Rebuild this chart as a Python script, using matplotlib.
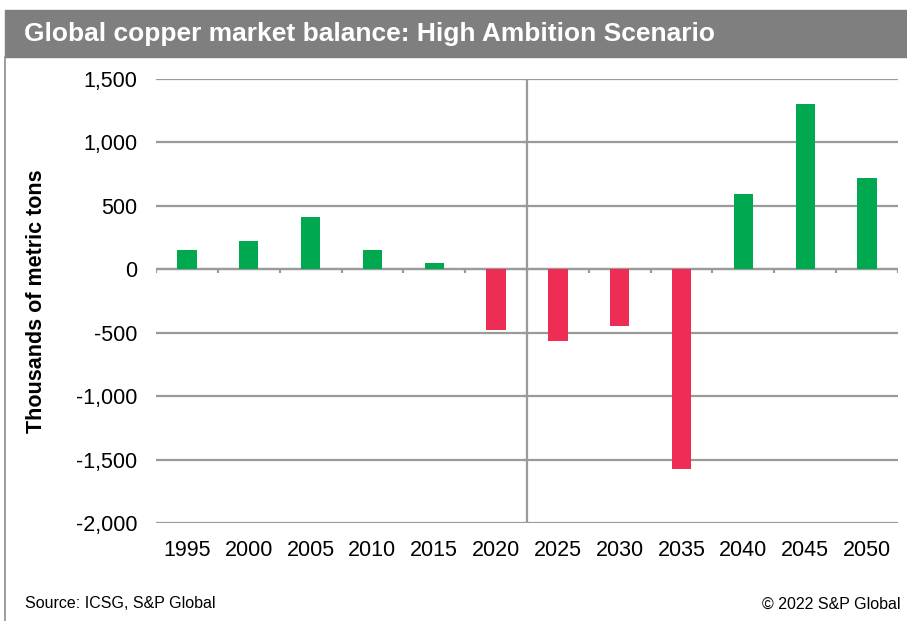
import numpy as np
import matplotlib.pyplot as plt
from matplotlib.patches import Rectangle
from matplotlib.lines import Line2D

plt.rcParams['font.family'] = ['Liberation Sans', 'DejaVu Sans']

# Market balance, thousands of metric tons
years = ['1995', '2000', '2005', '2010', '2015', '2020',
         '2025', '2030', '2035', '2040', '2045', '2050']
balance = [150, 220, 410, 150, 53, -480, -565, -450, -1575, 590, 1305, 722]
yticks = [-2000, -1500, -1000, -500, 0, 500, 1000, 1500]

green = '#00a94f'
red = '#ee2d54'
grid_col = '#9a9a9a'

fig = plt.figure(figsize=(9.07, 6.21), dpi=100)

# header band
fig.patches.append(Rectangle((5 / 907, 1 - 57 / 621), 1, 47 / 621,
                             transform=fig.transFigure, color='#7f7f7f', zorder=0))
fig.text(24 / 907, 1 - 34 / 621, 'Global copper market balance: High Ambition Scenario',
         color='white', fontsize=19, fontweight='bold', va='center', ha='left')
# left border of the panel
fig.lines.append(Line2D([5 / 907, 5 / 907], [0, 1 - 57 / 621], transform=fig.transFigure,
                        color='#8c8c8c', lw=1.2))

ax = fig.add_axes([156 / 907, 1 - 523 / 621, 742 / 907, 444 / 621])
x = np.arange(len(years))
colors = [green if v >= 0 else red for v in balance]
ax.bar(x, balance, width=0.31, color=colors, zorder=3)

ax.set_xlim(-0.5, len(years) - 0.5)
ax.set_ylim(-2000, 1500)
ax.set_yticks(yticks)
ax.set_yticklabels([f'{v:,}' for v in yticks])
ax.set_xticks(x)
ax.set_xticklabels(years)
ax.tick_params(axis='both', length=0, labelsize=15.5, colors='black')
ax.tick_params(axis='y', pad=13.5)
ax.tick_params(axis='x', pad=12)

for s in ax.spines.values():
    s.set_visible(False)
ax.yaxis.grid(True, color=grid_col, lw=1.6, zorder=1)
ax.set_axisbelow(True)

# category axis along zero with boundary ticks
ax.axhline(0, color=grid_col, lw=1.6, zorder=2)
bounds = np.arange(len(years) + 1) - 0.5
ax.vlines(bounds, -32, 0, color=grid_col, lw=1.6, zorder=2)
# value axis crossing between 2020 and 2025
ax.axvline(5.5, color=grid_col, lw=1.6, zorder=2)
ax.hlines(yticks, 5.5 - 0.06, 5.5, color=grid_col, lw=1.6, zorder=2)

ax.set_ylabel('Thousands of metric tons', fontsize=15.5, fontweight='bold')
ax.yaxis.set_label_coords((37 - 156) / 742, 0.5)
ax.yaxis.label.set_va('center')

fig.text(25 / 907, 1 - 604 / 621, 'Source: ICSG, S&P Global', fontsize=11.5, va='center')
fig.text(900 / 907, 1 - 604 / 621, '\u00a9 2022 S&P Global', fontsize=11.5,
         va='center', ha='right')

fig.savefig('out.png', dpi=100)
